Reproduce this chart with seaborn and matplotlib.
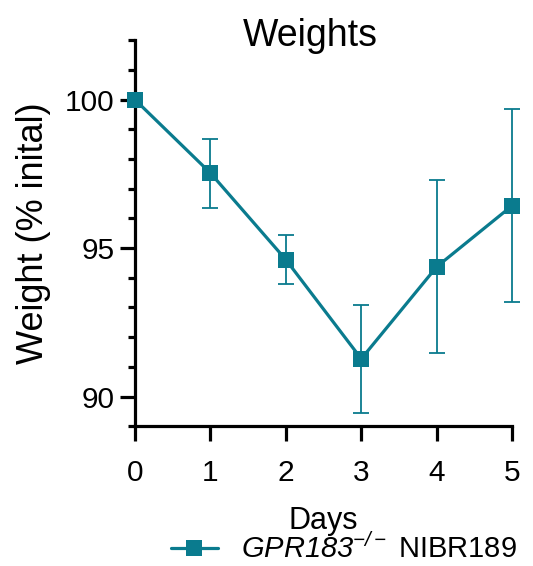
import matplotlib
matplotlib.use("Agg")
import matplotlib.pyplot as plt
import seaborn as sns
import pandas as pd
import numpy as np
from matplotlib.lines import Line2D

days = [0, 1, 2, 3, 4, 5]
weight_mean = [100.0, 97.53, 94.61, 91.27, 94.37, 96.43]
err_low = [100.0, 96.36, 93.78, 89.46, 91.48, 93.18]
err_high = [100.0, 98.66, 95.45, 93.07, 97.28, 99.67]
yticks = [90, 95, 100]
xticks = [0, 1, 2, 3, 4, 5]
series_label = r"$\mathit{GPR183}^{-/-}$ NIBR189"

color = "#0A7B8E"

sns.set_theme(style="ticks")
plt.rcParams["font.family"] = ["Liberation Sans", "DejaVu Sans"]
plt.rcParams["mathtext.fontset"] = "custom"
plt.rcParams["mathtext.it"] = "Liberation Sans:italic"
plt.rcParams["mathtext.rm"] = "Liberation Sans:italic"
plt.rcParams["mathtext.default"] = "it"
for k in ["text.color", "axes.labelcolor", "xtick.color", "ytick.color",
          "axes.edgecolor"]:
    plt.rcParams[k] = "black"

df = pd.DataFrame({"Days": days, "Weight": weight_mean})

fig = plt.figure(figsize=(5.33, 5.66), dpi=100)
ax = fig.add_axes([0.253, 0.247, 0.708, 0.682])

yerr = np.array([np.array(weight_mean) - np.array(err_low),
                 np.array(err_high) - np.array(weight_mean)])
ax.errorbar(days, weight_mean, yerr=yerr, fmt="none", ecolor=color,
            elinewidth=1.3, capsize=5.5, capthick=1.3, zorder=2, clip_on=False)
sns.lineplot(data=df, x="Days", y="Weight", ax=ax, color=color, linewidth=2.3,
             marker="s", markersize=12, markeredgewidth=0, legend=False,
             zorder=3, clip_on=False)

ax.set_xlim(0, 5)
ax.set_ylim(89, 102)
ax.set_xticks(xticks)
ax.set_yticks(yticks)
ax.set_yticks(np.arange(89, 103, 1), minor=True)
ax.tick_params(axis="both", which="major", labelsize=21.5, width=2.3, length=10.5,
               color="black", labelcolor="black")
ax.tick_params(axis="x", which="major", pad=13)
ax.tick_params(axis="y", which="major", pad=4)
ax.tick_params(axis="y", which="minor", width=2.3, length=5, color="black")
for s in ["top", "right"]:
    ax.spines[s].set_visible(False)
for s in ["left", "bottom"]:
    ax.spines[s].set_linewidth(2.3)
    ax.spines[s].set_color("black")

ax.set_xlabel("Days", fontsize=22, labelpad=14, color="black")
ax.set_ylabel("Weight (% inital)", fontsize=26, labelpad=10, color="black")
fig.text(0.582, 0.919, "Weights", fontsize=27, ha="center", va="baseline",
         color="black")

handle = Line2D([], [], color=color, linewidth=2.3, marker="s", markersize=12,
                markeredgewidth=0)
leg = fig.legend([handle], [series_label], loc="center", bbox_to_anchor=(0.645, 0.03),
                 frameon=False, fontsize=21, handlelength=1.6, handletextpad=0.8)
for t in leg.get_texts():
    t.set_color("black")

fig.savefig("out.png", dpi=100)
